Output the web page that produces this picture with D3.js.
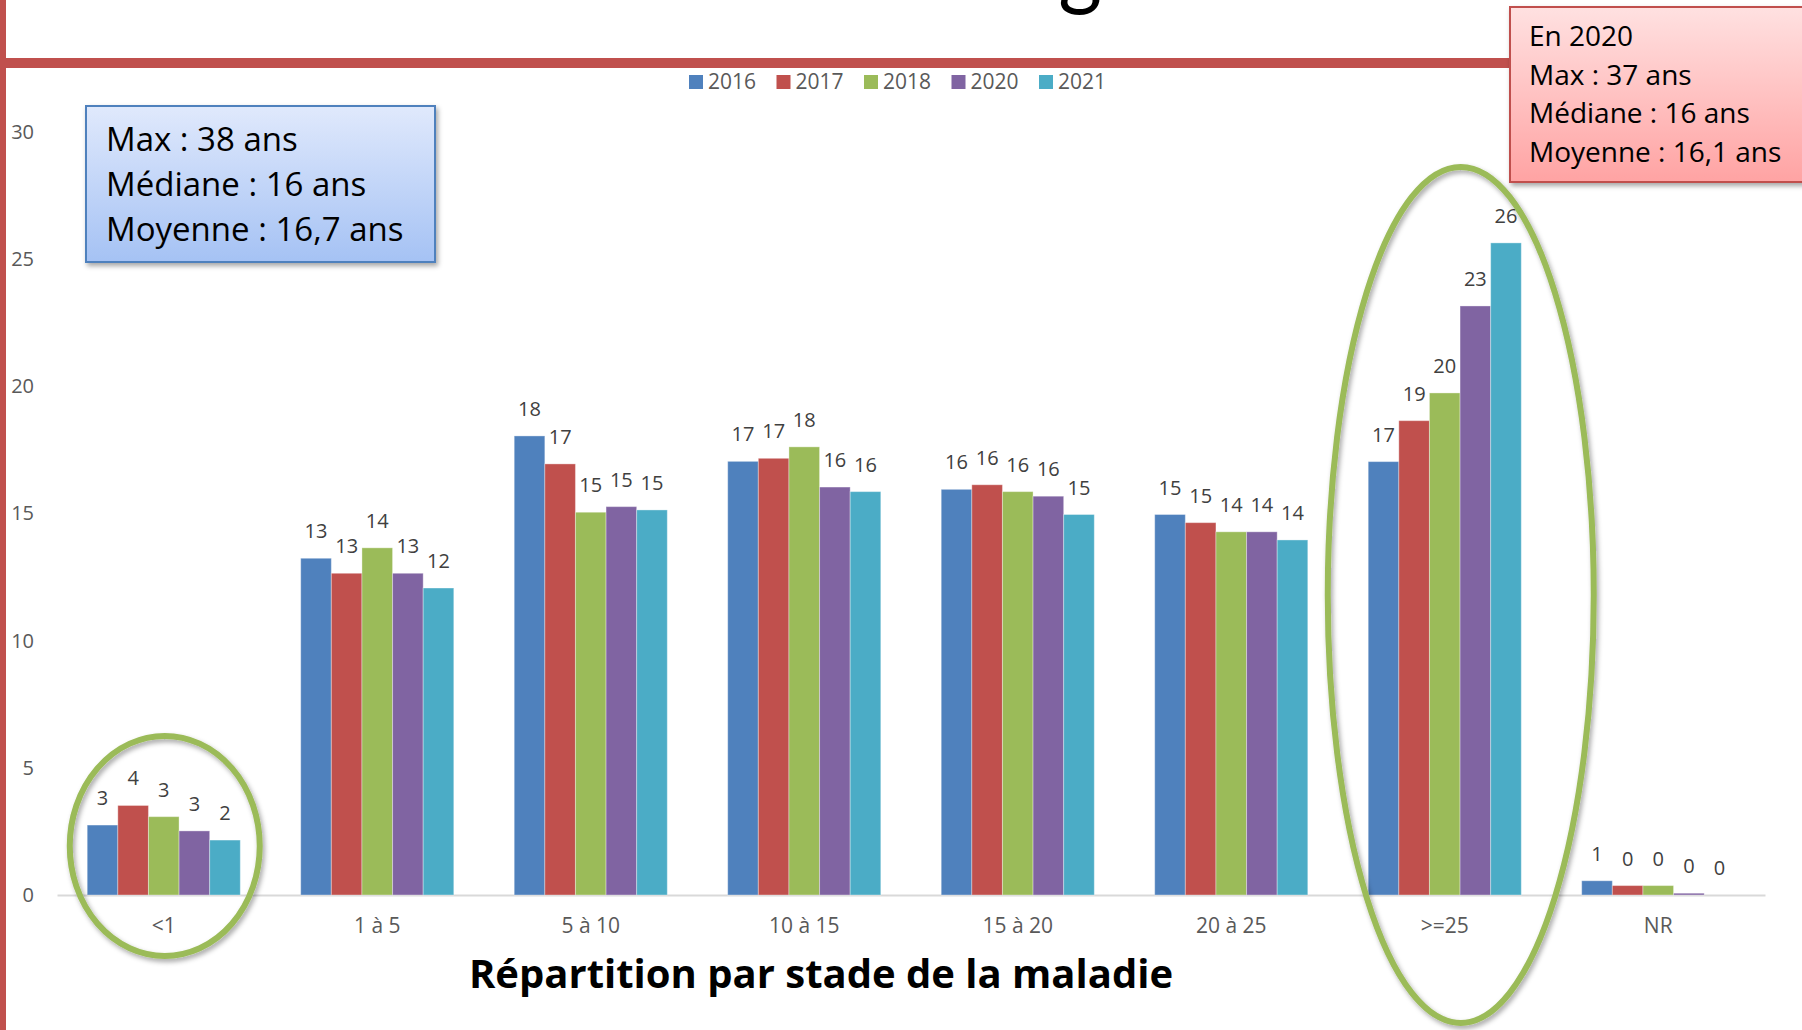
<!DOCTYPE html>
<meta charset="utf-8">
<style>
    body {
        margin: 0;
        background: #fff;
    }
    svg text {
        font-family: "Open Sans", sans-serif;
    }
    .axis path.domain {
        stroke: #d9d9d9;
        stroke-width: 2;
    }
    .axis text {
        fill: #595959;
        font-size: 20px;
    }
    .x.axis text {
        font-size: 21px;
    }
    .label {
        fill: #404040;
        font-size: 20px;
        text-anchor: middle;
    }
</style>
<body>
<div id="main"></div>
<script src="https://cdnjs.cloudflare.com/ajax/libs/d3/7.8.5/d3.min.js"></script>
<script>

var categories = ["<1", "1 à 5", "5 à 10", "10 à 15", "15 à 20", "20 à 25", ">=25", "NR"];
var years = ["2016", "2017", "2018", "2020", "2021"];
var colors = ["#4f81bd", "#c0504d", "#9bbb59", "#8064a2", "#4bacc6"];

var values2016 = [2.75, 13.24, 18.05, 17.05, 15.95, 14.96, 17.04, 0.56];
var values2017 = [3.52, 12.65, 16.95, 17.17, 16.13, 14.64, 18.65, 0.37];
var values2018 = [3.08, 13.65, 15.05, 17.62, 15.86, 14.28, 19.74, 0.37];
var values2020 = [2.52, 12.65, 15.27, 16.04, 15.68, 14.28, 23.16, 0.07];
var values2021 = [2.16, 12.07, 15.14, 15.86, 14.96, 13.96, 25.64, 0];
var yTicks = [0, 5, 10, 15, 20, 25, 30];

var boxAll = ["Max : 38 ans", "Médiane : 16 ans", "Moyenne : 16,7 ans"];
var box2020 = ["En 2020", "Max : 37 ans", "Médiane : 16 ans", "Moyenne : 16,1 ans"];

var series = [values2016, values2017, values2018, values2020, values2021];

var width = 1802, height = 1030;

var svg = d3.select("#main").append("svg")
        .attr("width", width)
        .attr("height", height);

var defs = svg.append("defs");

var shadow = defs.append("filter").attr("id", "shadow")
        .attr("x", "-20%").attr("y", "-20%").attr("width", "140%").attr("height", "140%");
shadow.append("feDropShadow")
        .attr("dx", 2).attr("dy", 3).attr("stdDeviation", 2.5)
        .attr("flood-color", "#000").attr("flood-opacity", 0.35);

var gBlue = defs.append("linearGradient").attr("id", "gradBlue")
        .attr("x1", 0).attr("y1", 0).attr("x2", 0).attr("y2", 1);
gBlue.append("stop").attr("offset", "0%").attr("stop-color", "#e0e9fc");
gBlue.append("stop").attr("offset", "100%").attr("stop-color", "#a5c2f4");

var gRed = defs.append("linearGradient").attr("id", "gradRed")
        .attr("x1", 0).attr("y1", 0).attr("x2", 0).attr("y2", 1);
gRed.append("stop").attr("offset", "0%").attr("stop-color", "#ffe1e1");
gRed.append("stop").attr("offset", "100%").attr("stop-color", "#ffa3a3");

// slide title, mostly cut off at the top
svg.append("text")
        .attr("x", 858)
        .attr("y", -2)
        .attr("text-anchor", "middle")
        .attr("textLength", 934)
        .attr("lengthAdjust", "spacingAndGlyphs")
        .style("font-family", "Lato, sans-serif")
        .style("font-size", "91px")
        .style("fill", "#000")
        .text("Ancienneté du diagnostic");

// red frame
svg.append("rect").attr("x", 0).attr("y", 0).attr("width", 6).attr("height", height).attr("fill", "#c0504d");
svg.append("rect").attr("x", 0).attr("y", 58).attr("width", 1520).attr("height", 10).attr("fill", "#c0504d");

// scales
var x0 = d3.scaleBand()
        .domain(categories)
        .range([57, 1765])
        .paddingInner(0.283)
        .paddingOuter(0.1415);

var x1 = d3.scaleBand()
        .domain(years)
        .range([0, x0.bandwidth()]);

var y = d3.scaleLinear()
        .domain([0, 30])
        .range([895, 132]);

var color = d3.scaleOrdinal().domain(years).range(colors);

// axes
var yAxis = d3.axisLeft(y).tickValues(yTicks).tickSize(0).tickPadding(6);
svg.append("g")
        .attr("class", "axis y")
        .attr("transform", "translate(40,0)")
        .call(yAxis)
        .call(function(g) { g.select(".domain").remove(); })
        .selectAll("text").style("text-anchor", "end");

var xAxis = d3.axisBottom(x0).tickSize(0).tickSizeOuter(0).tickPadding(23);
svg.append("g")
        .attr("class", "x axis")
        .attr("transform", "translate(0," + y(0) + ")")
        .call(xAxis);

// bars
var groups = svg.selectAll("g.group")
        .data(categories)
        .enter().append("g")
        .attr("class", "group")
        .attr("transform", function(d) { return "translate(" + x0(d) + ",0)"; });

var cells = groups.selectAll("g.cell")
        .data(function(d, i) {
            return years.map(function(yr, k) { return {year: yr, value: series[k][i]}; });
        })
        .enter().append("g").attr("class", "cell");

cells.append("rect")
        .attr("x", function(d) { return x1(d.year); })
        .attr("y", function(d) { return y(d.value); })
        .attr("width", x1.bandwidth())
        .attr("height", function(d) { return y(0) - y(d.value); })
        .attr("fill", function(d) { return color(d.year); })
        .attr("stroke", "#fff")
        .attr("stroke-opacity", 0.35)
        .attr("stroke-width", 1);

cells.append("text")
        .attr("class", "label")
        .attr("x", function(d) { return x1(d.year) + x1.bandwidth() / 2; })
        .attr("y", function(d) { return y(d.value) - 20; })
        .text(function(d) { return Math.round(d.value); });

// legend
var lx = d3.scalePoint().domain(years).range([689, 1039]);
var legend = svg.selectAll("g.legend")
        .data(years)
        .enter().append("g")
        .attr("class", "legend")
        .attr("transform", function(d) { return "translate(" + lx(d) + ",75)"; });
legend.append("rect")
        .attr("width", 14).attr("height", 14)
        .attr("fill", function(d) { return color(d); });
legend.append("text")
        .attr("x", 19).attr("y", 14)
        .style("font-size", "21px")
        .style("fill", "#595959")
        .text(function(d) { return d; });

// highlight ellipses
var bw = x0.bandwidth();
svg.append("ellipse")
        .attr("cx", x0("<1") + bw / 2 + 1)
        .attr("cy", y(1.93))
        .attr("rx", 95).attr("ry", 110)
        .attr("fill", "none")
        .attr("stroke", "#9bbb59")
        .attr("stroke-width", 6)
        .attr("filter", "url(#shadow)");

svg.append("ellipse")
        .attr("cx", x0(">=25") + bw / 2 + 16)
        .attr("cy", y(11.8))
        .attr("rx", 133).attr("ry", 428)
        .attr("fill", "none")
        .attr("stroke", "#9bbb59")
        .attr("stroke-width", 6)
        .attr("filter", "url(#shadow)");

// info boxes
svg.append("rect")
        .attr("x", 86).attr("y", 106).attr("width", 349).attr("height", 156)
        .attr("fill", "url(#gradBlue)")
        .attr("stroke", "#4f81bd").attr("stroke-width", 2)
        .attr("filter", "url(#shadow)");
svg.selectAll("text.boxAll")
        .data(boxAll)
        .enter().append("text")
        .attr("class", "boxAll")
        .attr("x", 106)
        .attr("y", function(d, i) { return 151 + i * 44.8; })
        .style("font-size", "33px")
        .style("fill", "#000")
        .text(function(d) { return d; });

svg.append("rect")
        .attr("x", 1510).attr("y", 7).attr("width", 310).attr("height", 175)
        .attr("fill", "url(#gradRed)")
        .attr("stroke", "#c0504d").attr("stroke-width", 2)
        .attr("filter", "url(#shadow)");
svg.selectAll("text.box2020")
        .data(box2020)
        .enter().append("text")
        .attr("class", "box2020")
        .attr("x", 1529)
        .attr("y", function(d, i) { return 46 + i * 38.5; })
        .style("font-size", "28px")
        .style("fill", "#000")
        .text(function(d) { return d; });

// chart title
svg.append("text")
        .attr("x", 821)
        .attr("y", 988)
        .attr("text-anchor", "middle")
        .style("font-size", "40px")
        .style("font-weight", "bold")
        .style("fill", "#000")
        .text("Répartition par stade de la maladie");

</script>
</body>
